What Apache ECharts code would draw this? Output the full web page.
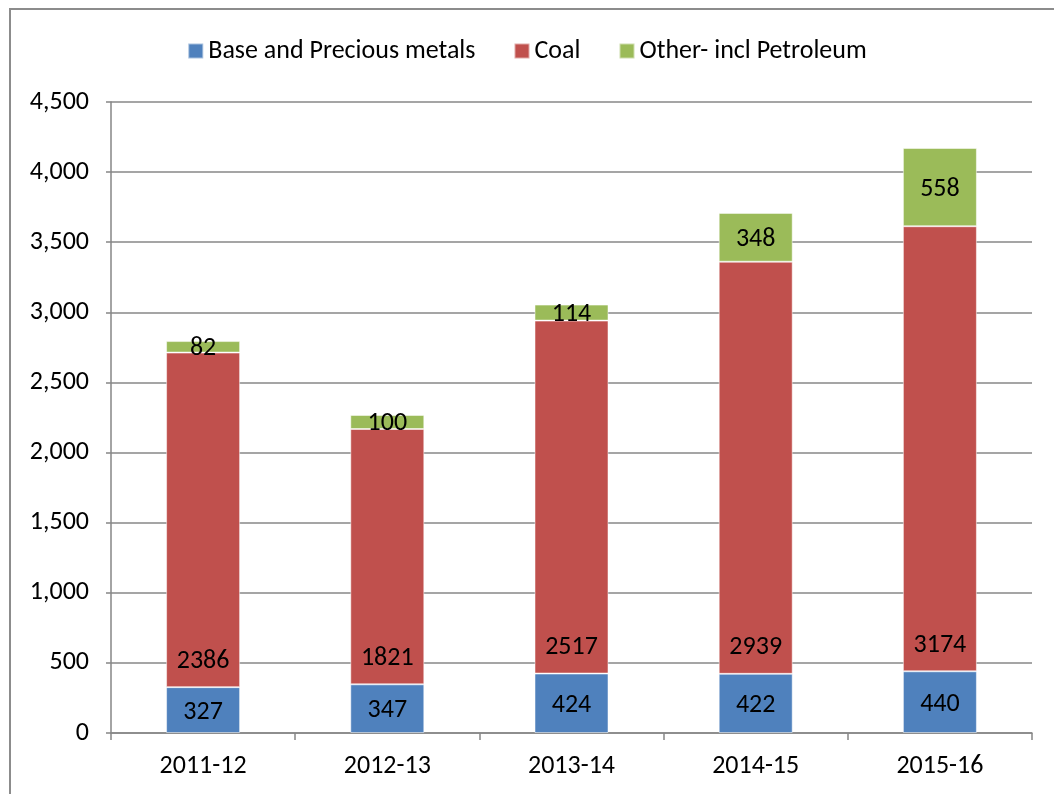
<!DOCTYPE html>
<html>
<head>
<meta charset="utf-8">
<script src="https://cdn.jsdelivr.net/npm/echarts@6/dist/echarts.min.js"></script>
<style>
html,body{margin:0;padding:0;background:#fff;}
#chart{width:1054px;height:794px;}
</style>
</head>
<body>
<div id="chart"></div>
<script>
const categories = ['2011-12', '2012-13', '2013-14', '2014-15', '2015-16'];
const baseMetals = [327, 347, 424, 422, 440];
const coal = [2386, 1821, 2517, 2939, 3174];
const other = [82, 100, 114, 348, 558];
const seriesNames = ['Base and Precious metals', 'Coal', 'Other- incl Petroleum'];

const FONT = 'Carlito, Calibri, Lato, sans-serif';
const FS = 26;
const chart = echarts.init(document.getElementById('chart'));
const barBorder = { borderColor: 'rgba(255,255,255,0.5)', borderWidth: 1 };
chart.setOption({
  animation: false,
  graphic: [{
    type: 'rect', shape: { x: 10, y: 9, width: 1100, height: 900 },
    style: { fill: 'none', stroke: '#8c8c8c', lineWidth: 2 }, silent: true
  }],
  legend: {
    top: 33, left: 'center', itemWidth: 15, itemHeight: 15, itemGap: 38,
    icon: 'rect',
    textStyle: { fontFamily: FONT, fontSize: FS, color: '#000' },
    data: seriesNames
  },
  grid: { left: 111, right: 22, top: 102, bottom: 61 },
  xAxis: {
    type: 'category', data: categories,
    axisLine: { lineStyle: { color: '#868686', width: 1.5 } },
    axisTick: { show: true, length: 7, lineStyle: { color: '#868686', width: 1.5 } },
    axisLabel: { fontFamily: FONT, fontSize: FS, color: '#000', margin: 20 }
  },
  yAxis: {
    type: 'value', min: 0, max: 4500, interval: 500,
    axisLine: { show: true, lineStyle: { color: '#868686', width: 1.5 } },
    axisTick: { show: true, length: 5, lineStyle: { color: '#868686', width: 1.5 } },
    splitLine: { lineStyle: { color: '#878787', width: 1.5 } },
    axisLabel: {
      fontFamily: FONT, fontSize: FS, color: '#000', margin: 22,
      formatter: v => v.toLocaleString('en-US')
    }
  },
  series: [
    {
      name: seriesNames[0], type: 'bar', stack: 'total', data: baseMetals,
      barWidth: 74, itemStyle: Object.assign({ color: '#4F81BD' }, barBorder),
      label: { show: true, position: 'inside', fontFamily: FONT, fontSize: FS, color: '#000', offset: [0, 2] }
    },
    {
      name: seriesNames[1], type: 'bar', stack: 'total', data: coal,
      barWidth: 74, itemStyle: Object.assign({ color: '#C0504D' }, barBorder),
      label: { show: true, position: 'insideBottom', distance: 13, fontFamily: FONT, fontSize: FS, color: '#000' }
    },
    {
      name: seriesNames[2], type: 'bar', stack: 'total', data: other,
      barWidth: 74, itemStyle: Object.assign({ color: '#9BBB59' }, barBorder),
      label: { show: true, position: 'inside', fontFamily: FONT, fontSize: FS, color: '#000', offset: [0, 2] }
    }
  ]
});
</script>
</body>
</html>
